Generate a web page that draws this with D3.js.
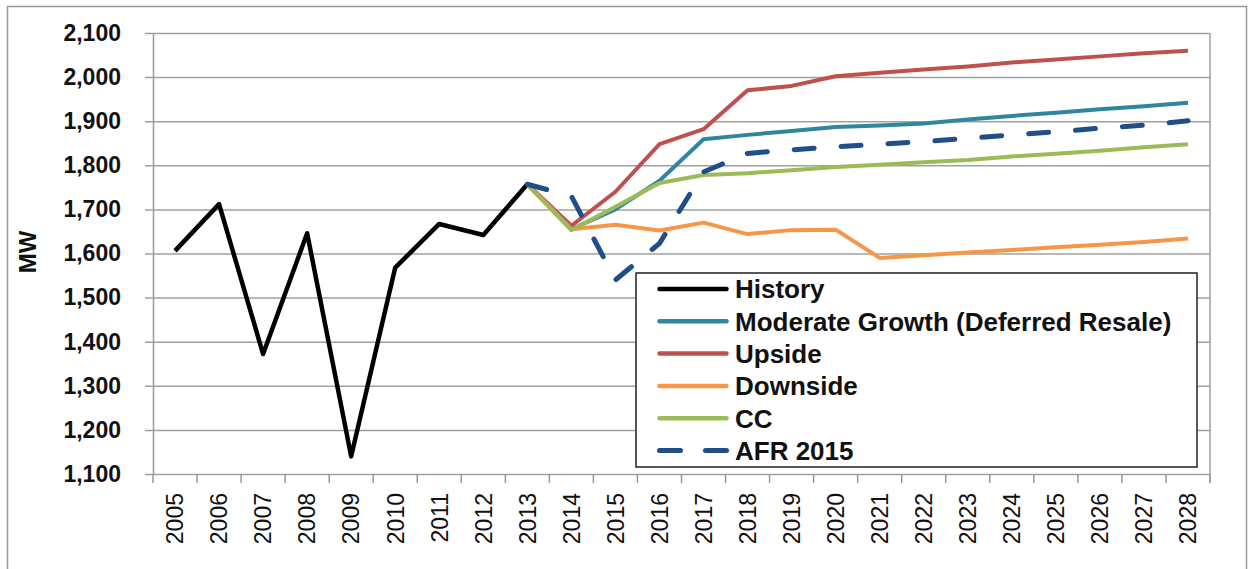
<!DOCTYPE html>
<html>
<head>
<meta charset="utf-8">
<script src="https://cdn.jsdelivr.net/npm/d3@7"></script>
<style>
  body { margin: 0; background: #fff; }
  svg { display: block; font-family: "Liberation Sans", Arial, sans-serif; }
</style>
</head>
<body>
<div id="chart"></div>
<script>
// categories
const years = ['2005', '2006', '2007', '2008', '2009', '2010', '2011', '2012', '2013', '2014',
  '2015', '2016', '2017', '2018', '2019', '2020', '2021', '2022', '2023', '2024',
  '2025', '2026', '2027', '2028'];
const historyYears = years.slice(0, 9);
const forecastYears = years.slice(8);

// series values (MW)
const history = [1606, 1712, 1372, 1646, 1140, 1568, 1667, 1642, 1757];
const moderate = [1757, 1655, 1700, 1765, 1859, 1869, 1878, 1887, 1890, 1895, 1904, 1912, 1919, 1927, 1934, 1942];
const upside = [1757, 1663, 1740, 1848, 1882, 1970, 1980, 2002, 2010, 2017, 2024, 2033, 2040, 2047, 2054, 2060];
const downside = [1757, 1655, 1665, 1652, 1670, 1644, 1653, 1654, 1590, 1596, 1602, 1608, 1614, 1620, 1626, 1634];
const cc = [1757, 1653, 1706, 1760, 1778, 1782, 1789, 1796, 1801, 1807, 1812, 1820, 1826, 1833, 1841, 1848];
const afr = [1757, 1730, 1540, 1623, 1785, 1827, 1835, 1842, 1848, 1854, 1861, 1869, 1876, 1884, 1891, 1901];

const yTicks = [1100, 1200, 1300, 1400, 1500, 1600, 1700, 1800, 1900, 2000, 2100];

const series = [
  { name: 'History', years: historyYears, values: history, color: '#000000', width: 4.5, dash: null },
  { name: 'Moderate Growth (Deferred Resale)', years: forecastYears, values: moderate, color: '#31869F', width: 4, dash: null },
  { name: 'Upside', years: forecastYears, values: upside, color: '#C0504D', width: 4, dash: null },
  { name: 'Downside', years: forecastYears, values: downside, color: '#F79646', width: 4, dash: null },
  { name: 'CC', years: forecastYears, values: cc, color: '#9BBB59', width: 4, dash: null },
  { name: 'AFR 2015', years: forecastYears, values: afr, color: '#1F4E89', width: 5, dash: '20,27' },
];

const width = 1251;
const height = 569;
const margin = { top: 33, right: 41, bottom: 95, left: 153 };

const svg = d3.select('#chart').append('svg')
  .attr('width', width)
  .attr('height', height);

// outer chart border
svg.append('rect')
  .attr('x', 7.5)
  .attr('y', 6.5)
  .attr('width', 1239)
  .attr('height', 600)
  .attr('fill', 'none')
  .attr('stroke', '#999')
  .attr('stroke-width', 1.5);

const x = d3.scaleBand()
  .domain(years)
  .range([margin.left, width - margin.right])
  .padding(0);

const y = d3.scaleLinear()
  .domain([1100, 2100])
  .range([height - margin.bottom, margin.top]);

const xc = (d) => x(d) + x.bandwidth() / 2;

// gridlines + y labels
const yAxis = d3.axisLeft(y)
  .tickValues(yTicks)
  .tickSize(-(width - margin.right - margin.left))
  .tickSizeOuter(0)
  .tickFormat(d3.format(','));

const yg = svg.append('g')
  .attr('transform', `translate(${margin.left},0)`)
  .call(yAxis);
yg.select('.domain').attr('stroke', '#999').attr('stroke-width', 1.5);
yg.selectAll('.tick line')
  .attr('x1', -8)
  .attr('stroke', '#a0a0a0')
  .attr('stroke-width', 1.5);
yg.selectAll('.tick text')
  .attr('x', -32)
  .attr('font-size', 23)
  .attr('font-weight', 'bold')
  .attr('fill', '#111');

// plot right border
svg.append('line')
  .attr('x1', width - margin.right)
  .attr('x2', width - margin.right)
  .attr('y1', margin.top)
  .attr('y2', height - margin.bottom + 9)
  .attr('stroke', '#a0a0a0')
  .attr('stroke-width', 1.5);

// x axis: ticks at category boundaries
const xg = svg.append('g');
const bounds = years.map((d) => x(d)).concat([width - margin.right]);
xg.selectAll('line.xt')
  .data(bounds)
  .join('line')
  .attr('class', 'xt')
  .attr('x1', (d) => d)
  .attr('x2', (d) => d)
  .attr('y1', y(1100))
  .attr('y2', y(1100) + 9)
  .attr('stroke', '#999')
  .attr('stroke-width', 1.5);

xg.selectAll('text')
  .data(years)
  .join('text')
  .attr('transform', (d) => `translate(${xc(d)},${y(1100) + 19}) rotate(-90)`)
  .attr('text-anchor', 'end')
  .attr('dy', '0.36em')
  .attr('font-size', 23)
  .attr('fill', '#111')
  .text((d) => d);

// y axis title
svg.append('text')
  .attr('transform', 'translate(27,252) rotate(-90)')
  .attr('text-anchor', 'middle')
  .attr('dy', '0.36em')
  .attr('font-size', 24)
  .attr('font-weight', 'bold')
  .attr('fill', '#111')
  .text('MW');

// lines
const line = d3.line()
  .x((d) => xc(d.year))
  .y((d) => y(d.value));

svg.append('g').selectAll('path')
  .data(series)
  .join('path')
  .attr('d', (s) => line(s.years.map((yr, i) => ({ year: yr, value: s.values[i] }))))
  .attr('fill', 'none')
  .attr('stroke', (s) => s.color)
  .attr('stroke-width', (s) => s.width)
  .attr('stroke-linejoin', 'round')
  .attr('stroke-linecap', (s) => (s.dash ? 'round' : 'butt'))
  .attr('stroke-dasharray', (s) => s.dash);

// legend
const legend = svg.append('g').attr('transform', 'translate(636,273)');
legend.append('rect')
  .attr('x', 0)
  .attr('y', 0)
  .attr('width', 561)
  .attr('height', 194)
  .attr('fill', '#fff')
  .attr('stroke', '#222')
  .attr('stroke-width', 1.5);

const rowH = 32.3;
const item = legend.selectAll('g.item')
  .data(series)
  .join('g')
  .attr('class', 'item')
  .attr('transform', (s, i) => `translate(0,${16 + i * rowH})`);

item.append('line')
  .attr('x1', 23.5)
  .attr('x2', 90.5)
  .attr('y1', 0)
  .attr('y2', 0)
  .attr('stroke', (s) => s.color)
  .attr('stroke-width', (s) => (s.dash ? 5 : 4.5))
  .attr('stroke-linecap', 'round')
  .attr('stroke-dasharray', (s) => (s.dash ? '21,25' : null));

item.append('text')
  .attr('x', 99)
  .attr('y', 0)
  .attr('dy', '0.36em')
  .attr('font-size', 26)
  .attr('font-weight', 'bold')
  .attr('fill', '#111')
  .text((s) => s.name);
</script>
</body>
</html>
